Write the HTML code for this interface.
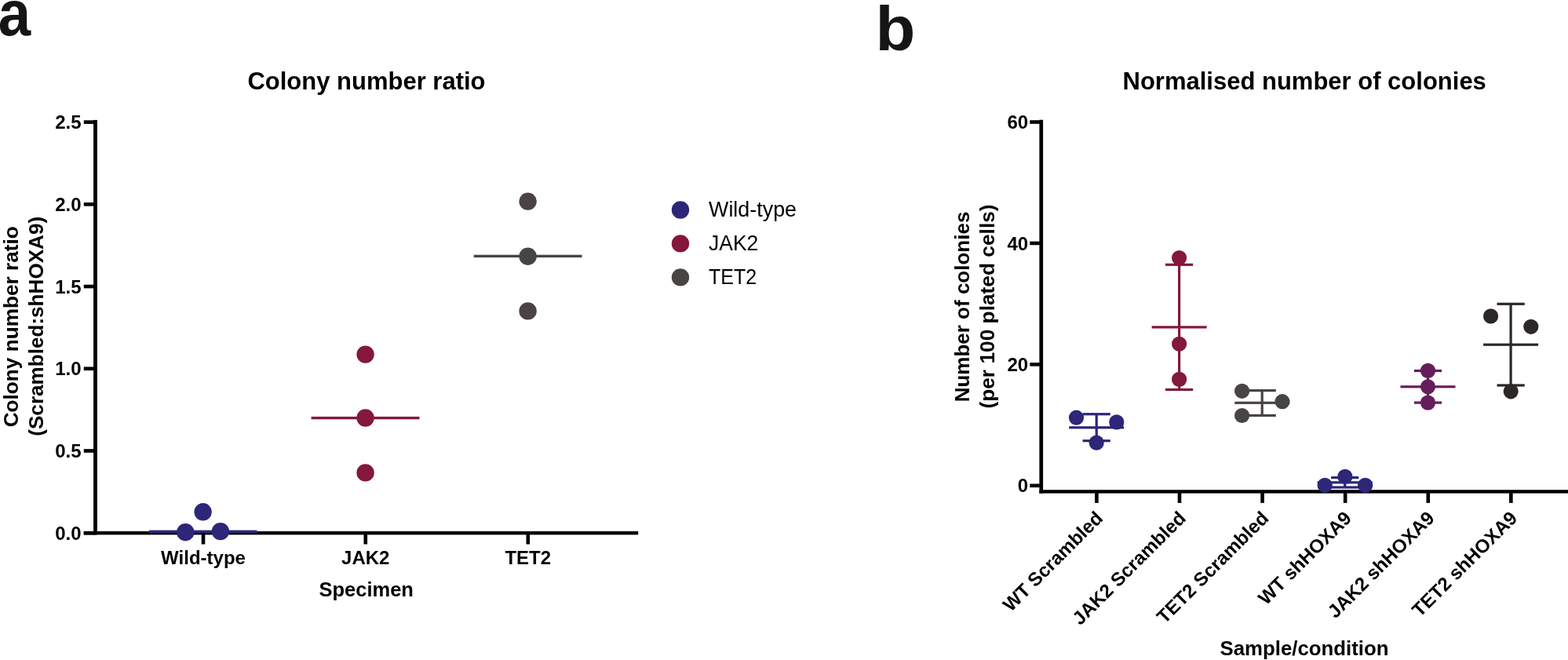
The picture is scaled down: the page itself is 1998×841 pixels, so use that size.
<!DOCTYPE html>
<html><head><meta charset="utf-8"><title>Colony number figure</title>
<style>
html,body{margin:0;padding:0;background:#fff;width:1998px;height:841px;overflow:hidden}
svg{display:block}
text{font-family:"Liberation Sans",Arial,Helvetica,sans-serif}
</style></head><body>
<svg width="1998" height="841" viewBox="0 0 1998 841">
<rect x="0" y="0" width="1998" height="841" fill="#fff"/>
<text transform="translate(-2.2,44.6) scale(0.907,1)" x="0" y="0" font-size="82" font-weight="bold" fill="#141515">a</text>
<text x="467.00" y="114.00" font-size="31" text-anchor="middle" font-weight="bold" fill="#000">Colony number ratio</text>
<text transform="translate(22.5,416.3) rotate(-90)" x="0" y="0" font-size="26.2" text-anchor="middle" font-weight="bold">Colony number ratio</text>
<text transform="translate(55,415.8) rotate(-90)" x="0" y="0" font-size="26.1" text-anchor="middle" font-weight="bold">(Scrambled:shHOXA9)</text>
<rect x="119.10" y="152.90" width="4.80" height="528.50" fill="#000"/>
<rect x="106.70" y="677.00" width="706.50" height="4.40" fill="#000"/>
<rect x="106.80" y="676.90" width="14.70" height="4.60" fill="#000"/>
<text x="103.60" y="687.80" font-size="24" text-anchor="end" font-weight="bold" fill="#000">0.0</text>
<rect x="106.80" y="572.18" width="14.70" height="4.60" fill="#000"/>
<text x="103.60" y="583.08" font-size="24" text-anchor="end" font-weight="bold" fill="#000">0.5</text>
<rect x="106.80" y="467.46" width="14.70" height="4.60" fill="#000"/>
<text x="103.60" y="478.36" font-size="24" text-anchor="end" font-weight="bold" fill="#000">1.0</text>
<rect x="106.80" y="362.74" width="14.70" height="4.60" fill="#000"/>
<text x="103.60" y="373.64" font-size="24" text-anchor="end" font-weight="bold" fill="#000">1.5</text>
<rect x="106.80" y="258.02" width="14.70" height="4.60" fill="#000"/>
<text x="103.60" y="268.92" font-size="24" text-anchor="end" font-weight="bold" fill="#000">2.0</text>
<rect x="106.80" y="153.30" width="14.70" height="4.60" fill="#000"/>
<text x="103.60" y="164.20" font-size="24" text-anchor="end" font-weight="bold" fill="#000">2.5</text>
<rect x="256.70" y="680.00" width="4.60" height="13.50" fill="#000"/>
<text x="259.00" y="719.00" font-size="24" text-anchor="middle" font-weight="bold" fill="#000">Wild-type</text>
<rect x="463.50" y="680.00" width="4.60" height="13.50" fill="#000"/>
<text x="465.80" y="719.00" font-size="24" text-anchor="middle" font-weight="bold" fill="#000">JAK2</text>
<rect x="670.50" y="680.00" width="4.60" height="13.50" fill="#000"/>
<text x="672.80" y="719.00" font-size="24" text-anchor="middle" font-weight="bold" fill="#000">TET2</text>
<text x="466.70" y="760.20" font-size="25.5" text-anchor="middle" font-weight="bold" fill="#000">Specimen</text>
<rect x="189.90" y="675.60" width="137.60" height="3.40" fill="#2D2679"/>
<circle cx="258.60" cy="652.30" r="11.2" fill="#2D2679"/>
<circle cx="236.30" cy="678.20" r="11.2" fill="#2D2679"/>
<circle cx="280.90" cy="677.10" r="11.2" fill="#2D2679"/>
<rect x="396.60" y="530.90" width="137.90" height="3.40" fill="#83173D"/>
<circle cx="465.60" cy="451.60" r="11.2" fill="#83173D"/>
<circle cx="465.60" cy="532.50" r="11.2" fill="#83173D"/>
<circle cx="465.60" cy="602.40" r="11.2" fill="#83173D"/>
<rect x="603.70" y="324.70" width="137.80" height="3.40" fill="#484443"/>
<circle cx="672.60" cy="256.60" r="11.2" fill="#484443"/>
<circle cx="672.60" cy="326.70" r="11.2" fill="#484443"/>
<circle cx="672.60" cy="396.40" r="11.2" fill="#484443"/>
<circle cx="867.00" cy="267.50" r="11.2" fill="#2D2679"/>
<text transform="translate(903.0,275.8) scale(1.015,1.04)" x="0" y="0" font-size="26.5" font-weight="normal">Wild-type</text>
<circle cx="867.00" cy="310.40" r="11.2" fill="#83173D"/>
<text transform="translate(903.0,319.0) scale(1.0,1.04)" x="0" y="0" font-size="26.5" font-weight="normal">JAK2</text>
<circle cx="867.00" cy="353.40" r="11.2" fill="#484443"/>
<text transform="translate(903.0,361.9) scale(0.946,1.04)" x="0" y="0" font-size="26.5" font-weight="normal">TET2</text>
<text transform="translate(1115.5,64.3) scale(1.04,1)" x="0" y="0" font-size="80" font-weight="bold" fill="#141515">b</text>
<text x="1662.20" y="114.30" font-size="31" text-anchor="middle" font-weight="bold" fill="#000">Normalised number of colonies</text>
<text transform="translate(1235.2,391.0) rotate(-90)" x="0" y="0" font-size="26" text-anchor="middle" font-weight="bold">Number of colonies</text>
<text transform="translate(1266.5,390.5) rotate(-90)" x="0" y="0" font-size="26.3" text-anchor="middle" font-weight="bold">(per 100 plated cells)</text>
<rect x="1324.40" y="152.70" width="4.70" height="475.90" fill="#000"/>
<rect x="1324.40" y="624.20" width="673.60" height="4.40" fill="#000"/>
<rect x="1312.30" y="616.50" width="14.40" height="4.60" fill="#000"/>
<text x="1310.20" y="627.40" font-size="24" text-anchor="end" font-weight="bold" fill="#000">0</text>
<rect x="1312.30" y="462.07" width="14.40" height="4.60" fill="#000"/>
<text x="1310.20" y="472.97" font-size="24" text-anchor="end" font-weight="bold" fill="#000">20</text>
<rect x="1312.30" y="307.63" width="14.40" height="4.60" fill="#000"/>
<text x="1310.20" y="318.53" font-size="24" text-anchor="end" font-weight="bold" fill="#000">40</text>
<rect x="1312.30" y="153.20" width="14.40" height="4.60" fill="#000"/>
<text x="1310.20" y="164.10" font-size="24" text-anchor="end" font-weight="bold" fill="#000">60</text>
<rect x="1395.10" y="627.00" width="4.60" height="13.90" fill="#000"/>
<text transform="translate(1406.80,661.70) rotate(-45)" x="0" y="0" font-size="24.2" text-anchor="end" font-weight="bold">WT Scrambled</text>
<rect x="1500.69" y="627.00" width="4.60" height="13.90" fill="#000"/>
<text transform="translate(1512.39,661.70) rotate(-45)" x="0" y="0" font-size="24.2" text-anchor="end" font-weight="bold">JAK2 Scrambled</text>
<rect x="1606.28" y="627.00" width="4.60" height="13.90" fill="#000"/>
<text transform="translate(1617.98,661.70) rotate(-45)" x="0" y="0" font-size="24.2" text-anchor="end" font-weight="bold">TET2 Scrambled</text>
<rect x="1711.87" y="627.00" width="4.60" height="13.90" fill="#000"/>
<text transform="translate(1723.57,661.70) rotate(-45)" x="0" y="0" font-size="24.2" text-anchor="end" font-weight="bold">WT shHOXA9</text>
<rect x="1817.46" y="627.00" width="4.60" height="13.90" fill="#000"/>
<text transform="translate(1829.16,661.70) rotate(-45)" x="0" y="0" font-size="24.2" text-anchor="end" font-weight="bold">JAK2 shHOXA9</text>
<rect x="1923.05" y="627.00" width="4.60" height="13.90" fill="#000"/>
<text transform="translate(1934.75,661.70) rotate(-45)" x="0" y="0" font-size="24.2" text-anchor="end" font-weight="bold">TET2 shHOXA9</text>
<text x="1662.00" y="835.00" font-size="25.8" text-anchor="middle" font-weight="bold" fill="#000">Sample/condition</text>
<rect x="1395.60" y="527.70" width="3.20" height="34.00" fill="#2D2679"/>
<rect x="1379.60" y="526.10" width="35.20" height="3.20" fill="#2D2679"/>
<rect x="1379.60" y="560.10" width="35.20" height="3.20" fill="#2D2679"/>
<rect x="1362.20" y="543.20" width="70.00" height="3.20" fill="#2D2679"/>
<circle cx="1371.50" cy="532.20" r="9.6" fill="#2D2679"/>
<circle cx="1422.80" cy="537.90" r="9.6" fill="#2D2679"/>
<circle cx="1397.20" cy="564.10" r="9.6" fill="#2D2679"/>
<rect x="1501.00" y="337.30" width="3.20" height="159.20" fill="#83173D"/>
<rect x="1485.00" y="335.70" width="35.20" height="3.20" fill="#83173D"/>
<rect x="1485.00" y="494.90" width="35.20" height="3.20" fill="#83173D"/>
<rect x="1467.60" y="415.30" width="70.00" height="3.20" fill="#83173D"/>
<circle cx="1502.60" cy="328.50" r="9.6" fill="#83173D"/>
<circle cx="1502.60" cy="438.30" r="9.6" fill="#83173D"/>
<circle cx="1502.60" cy="483.40" r="9.6" fill="#83173D"/>
<rect x="1606.60" y="497.60" width="3.20" height="31.80" fill="#484443"/>
<rect x="1590.60" y="496.00" width="35.20" height="3.20" fill="#484443"/>
<rect x="1590.60" y="527.80" width="35.20" height="3.20" fill="#484443"/>
<rect x="1573.20" y="511.70" width="70.00" height="3.20" fill="#484443"/>
<circle cx="1582.60" cy="498.30" r="9.6" fill="#484443"/>
<circle cx="1582.60" cy="529.50" r="9.6" fill="#484443"/>
<circle cx="1634.00" cy="511.70" r="9.6" fill="#484443"/>
<rect x="1712.10" y="608.60" width="3.20" height="12.40" fill="#2D2679"/>
<rect x="1696.10" y="607.00" width="35.20" height="3.20" fill="#2D2679"/>
<rect x="1696.10" y="619.40" width="35.20" height="3.20" fill="#2D2679"/>
<rect x="1678.70" y="613.20" width="70.00" height="3.20" fill="#2D2679"/>
<circle cx="1713.85" cy="607.40" r="9.6" fill="#2D2679"/>
<circle cx="1688.20" cy="618.40" r="9.6" fill="#2D2679"/>
<circle cx="1739.60" cy="618.40" r="9.6" fill="#2D2679"/>
<rect x="1817.90" y="472.50" width="3.20" height="40.60" fill="#661D5B"/>
<rect x="1801.90" y="470.90" width="35.20" height="3.20" fill="#661D5B"/>
<rect x="1801.90" y="511.50" width="35.20" height="3.20" fill="#661D5B"/>
<rect x="1784.50" y="491.20" width="70.00" height="3.20" fill="#661D5B"/>
<circle cx="1819.50" cy="472.40" r="9.6" fill="#661D5B"/>
<circle cx="1819.50" cy="492.80" r="9.6" fill="#661D5B"/>
<circle cx="1819.50" cy="513.10" r="9.6" fill="#661D5B"/>
<rect x="1923.50" y="387.30" width="3.20" height="103.70" fill="#2B2827"/>
<rect x="1907.50" y="385.70" width="35.20" height="3.20" fill="#2B2827"/>
<rect x="1907.50" y="489.40" width="35.20" height="3.20" fill="#2B2827"/>
<rect x="1890.10" y="437.60" width="70.00" height="3.20" fill="#2B2827"/>
<circle cx="1899.60" cy="402.90" r="9.6" fill="#2B2827"/>
<circle cx="1950.80" cy="416.30" r="9.6" fill="#2B2827"/>
<circle cx="1925.20" cy="498.80" r="9.6" fill="#2B2827"/>
</svg>
</body></html>
